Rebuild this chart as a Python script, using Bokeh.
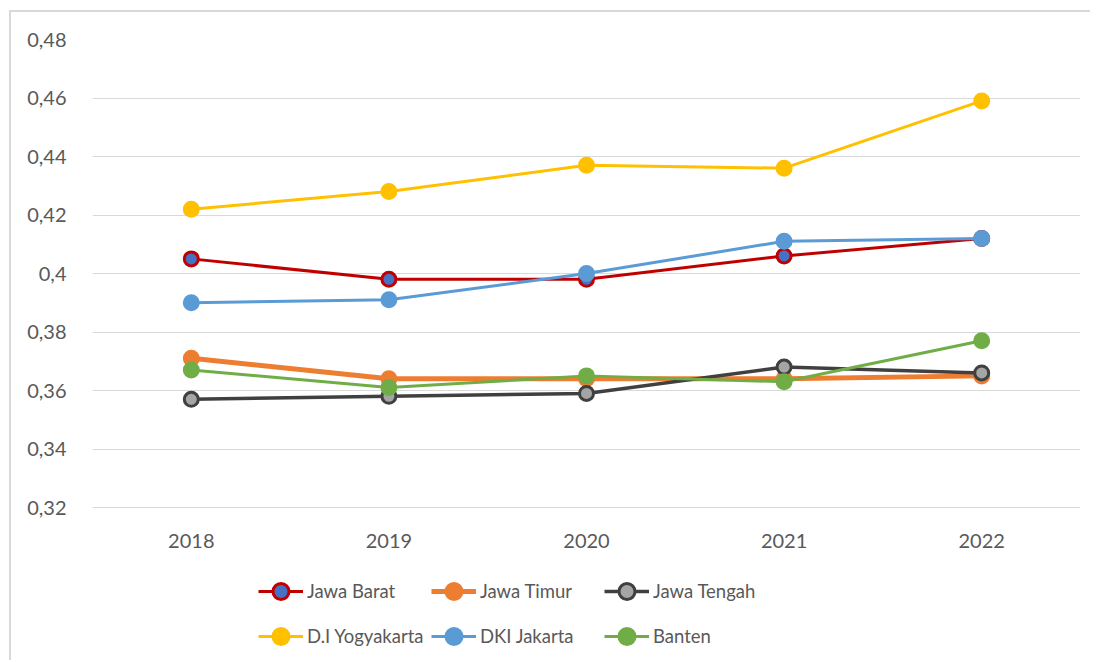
from bokeh.plotting import figure
from bokeh.models import Legend, LegendItem, FixedTicker, Range1d
from bokeh.core.properties import value
from bokeh.embed import file_html
from bokeh.resources import INLINE

years = ["2018", "2019", "2020", "2021", "2022"]
jawa_barat = [0.405, 0.398, 0.398, 0.406, 0.412]
jawa_timur = [0.371, 0.364, 0.364, 0.364, 0.365]
jawa_tengah = [0.357, 0.358, 0.359, 0.368, 0.366]
di_yogyakarta = [0.422, 0.428, 0.437, 0.436, 0.459]
dki_jakarta = [0.390, 0.391, 0.400, 0.411, 0.412]
banten = [0.367, 0.361, 0.365, 0.363, 0.377]
y_ticks = [0.32, 0.34, 0.36, 0.38, 0.40, 0.42, 0.44, 0.46, 0.48]
y_tick_labels = ["0,32", "0,34", "0,36", "0,38", "0,4", "0,42", "0,44", "0,46", "0,48"]

FONT = "Lato"
TXT = "#595959"

Y_MIN, Y_MAX = 0.32, 0.48
PLOT_H = 468                       # pixel height of the data area
PER_PX = (Y_MAX - Y_MIN) / PLOT_H
EXTRA_PX = 153                     # room below the data area for x labels and legend
LABEL_PX = 33                      # x labels' distance below the 0.32 line

p = figure(x_range=years, y_range=Range1d(Y_MIN - EXTRA_PX * PER_PX, Y_MAX),
           frame_width=988, frame_height=PLOT_H + EXTRA_PX,
           output_backend="svg", toolbar_location=None,
           min_border_left=81, min_border_right=10, min_border_top=27, min_border_bottom=0)
p.outline_line_color = None
p.background_fill_color = "white"
p.border_fill_color = "white"
p.styles = {"border-left": "2px solid #D9D9D9", "border-top": "2px solid #D9D9D9",
            "margin-left": "9px", "margin-top": "10px"}

p.xgrid.grid_line_color = None
p.ygrid.grid_line_color = "#D9D9D9"
p.ygrid.grid_line_width = 1
p.yaxis.ticker = FixedTicker(ticks=y_ticks)
p.yaxis.major_label_overrides = {t: l for t, l in zip(y_ticks, y_tick_labels)}
p.yaxis.axis_line_color = None
p.yaxis.major_tick_line_color = None
p.yaxis.minor_tick_line_color = None
p.yaxis.major_label_standoff = 20
p.yaxis.major_label_text_font = FONT
p.yaxis.major_label_text_font_size = "20px"
p.yaxis.major_label_text_color = TXT
p.xaxis.visible = False

# category labels under the 0.32 line
p.text(x=years, y=Y_MIN - LABEL_PX * PER_PX, text=years, text_font=value(FONT),
       text_font_size="20px", text_color=TXT, text_align="center", text_baseline="middle")

series = [
    ("Jawa Barat", jawa_barat, "#C00000", 3, "#4472C4", "#C00000"),
    ("Jawa Timur", jawa_timur, "#ED7D31", 5, "#ED7D31", "#ED7D31"),
    ("Jawa Tengah", jawa_tengah, "#404040", 3.5, "#A5A5A5", "#404040"),
    ("D.I Yogyakarta", di_yogyakarta, "#FFC000", 3, "#FFC000", "#FFC000"),
    ("DKI Jakarta", dki_jakarta, "#5B9BD5", 3, "#5B9BD5", "#5B9BD5"),
    ("Banten", banten, "#70AD47", 3, "#70AD47", "#70AD47"),
]

items = {}
for name, vals, col, lw, fill, mline in series:
    r1 = p.line(years, vals, line_color=col, line_width=lw)
    r2 = p.scatter(years, vals, size=14, fill_color=fill, line_color=mline, line_width=3)
    items[name] = LegendItem(label=name, renderers=[r1, r2])

order = ["Jawa Barat", "D.I Yogyakarta", "Jawa Timur", "DKI Jakarta", "Jawa Tengah", "Banten"]
lg = Legend(items=[items[n] for n in order], ncols=3, location=(166, 2))
lg.label_text_font = FONT
lg.label_text_font_size = "18.5px"
lg.label_text_color = TXT
lg.glyph_width = 45
lg.glyph_height = 40
lg.label_height = 45
lg.label_width = 124
lg.label_standoff = 4
lg.spacing = 0
lg.border_line_color = None
lg.background_fill_alpha = 0
lg.margin = 0
lg.padding = 0
p.add_layout(lg)

open("out.html", "w").write(file_html(p, INLINE))
